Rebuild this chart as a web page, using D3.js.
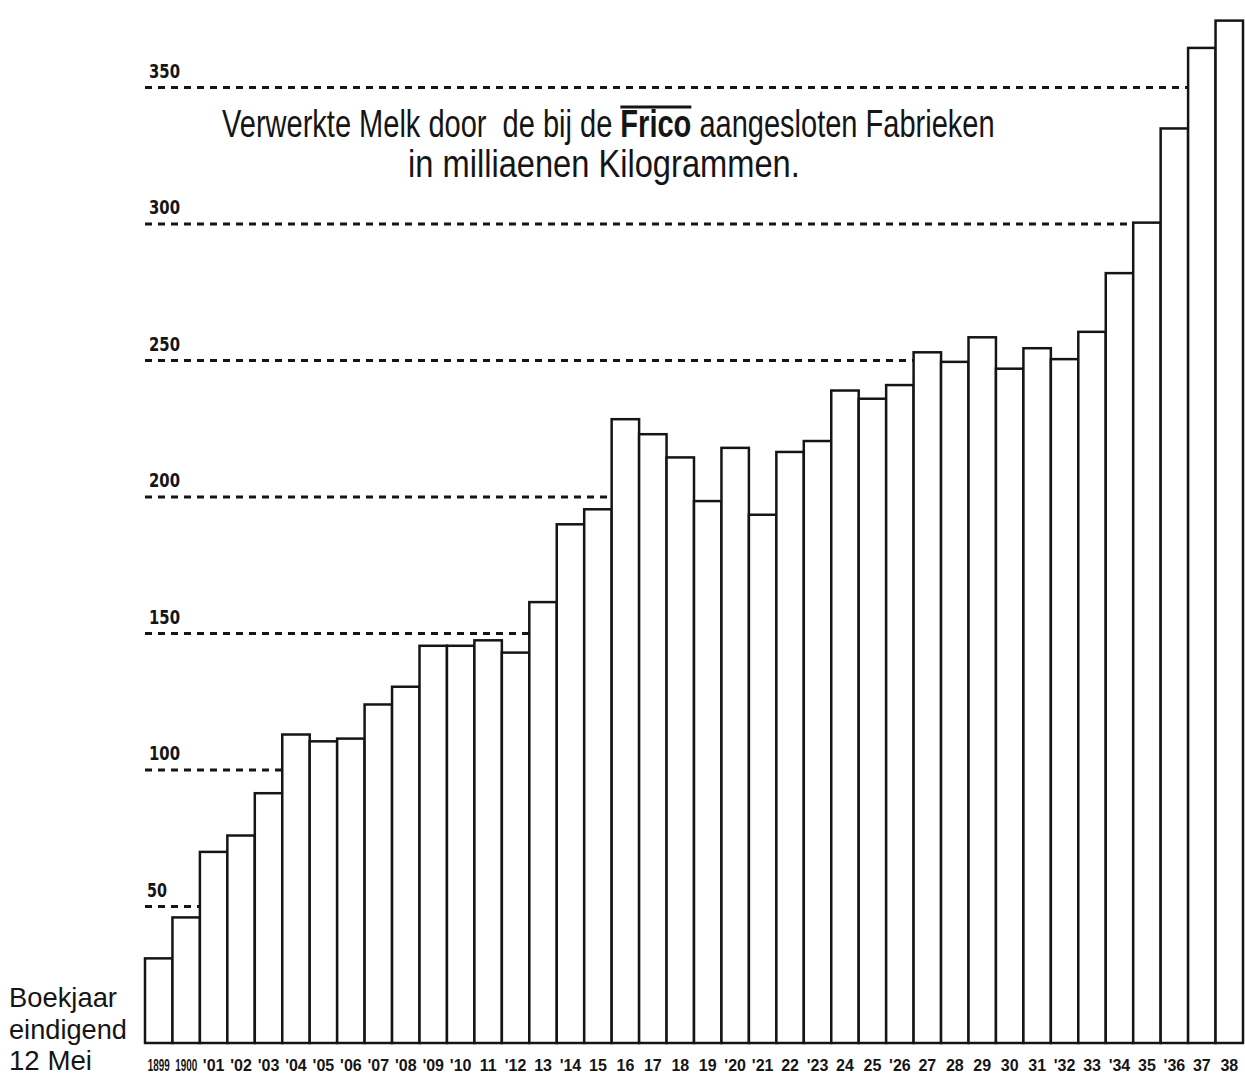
<!DOCTYPE html>
<html>
<head>
<meta charset="utf-8">
<script src="https://cdn.jsdelivr.net/npm/d3@7"></script>
<style>
  body { margin: 0; background: #fff; }
  svg { display: block; }
</style>
</head>
<body>
<div id="chart"></div>
<script>
// boekjaar labels as lettered under the bars
var years = ["1899", "1900", "'01", "'02", "'03", "'04", "'05", "'06", "'07", "'08",
             "'09", "'10", "11", "'12", "13", "'14", "15", "16", "17", "18",
             "19", "'20", "'21", "22", "'23", "24", "25", "'26", "27", "28",
             "29", "30", "31", "'32", "33", "'34", "35", "'36", "37", "38"];

// verwerkte melk, millioenen kg
var melk = [31, 46, 70, 76, 91.5, 113, 110.5, 111.5, 124, 130.5,
            145.5, 145.5, 147.5, 143, 161.5, 190, 195.5, 228.5, 223, 214.5,
            198.5, 218, 193.5, 216.5, 220.5, 239, 236, 241, 253, 249.5,
            258.5, 247, 254.5, 250.5, 260.5, 282, 300.5, 335, 364.5, 374.5];

var tickValues = [50, 100, 150, 200, 250, 300, 350];

var title1 = ["Verwerkte Melk door  de bij de ", "Frico", " aangesloten Fabrieken"];
var title2 = "in milliaenen Kilogrammen.";
var sideLabel = ["Boekjaar", "eindigend", "12 Mei"];

var width = 1245,
    height = 1077,
    base = 1043;

var ink = "#151515";

var svg = d3.select("#chart").append("svg")
    .attr("width", width)
    .attr("height", height);

svg.append("rect").attr("width", width).attr("height", height).attr("fill", "#fff");

var x = d3.scaleBand()
    .domain(years)
    .range([145, 1243])
    .padding(0);

var y = d3.scaleLinear()
    .domain([0, 350])
    .range([base, 87.5]);

// squeeze a line of text into a given span (keeps the bbox honest)
function fitLine(g, x0, w) {
  var node = g.select("text").node();
  var natural = node.getComputedTextLength();
  g.attr("transform", g.attr("transform") + " translate(" + x0 + ",0) scale(" + (w / natural) + ",1)");
  return node;
}

// dashed lines run from the left edge up to the first bar that passes them
tickValues.forEach(function(t) {
  var idx = melk.findIndex(function(v) { return v > t; });
  var xEnd = idx < 0 ? x.range()[1] : x(years[idx]);
  svg.append("line")
    .attr("x1", 145)
    .attr("x2", xEnd)
    .attr("y1", y(t))
    .attr("y2", y(t))
    .attr("stroke", ink)
    .attr("stroke-width", 3)
    .attr("stroke-dasharray", "7,6");

  var g = svg.append("g").attr("transform", "translate(0," + (y(t) - 10) + ")");
  g.append("text")
    .attr("font-family", "'Liberation Sans Narrow', 'DejaVu Sans Condensed', sans-serif")
    .attr("font-weight", "bold")
    .attr("font-size", 19)
    .attr("fill", ink)
    .text(t);
  fitLine(g, t < 100 ? 147 : 149, t < 100 ? 20 : 31);
});

svg.append("g")
  .selectAll("rect")
  .data(melk)
  .join("rect")
    .attr("x", function(d, i) { return x(years[i]); })
    .attr("y", function(d) { return y(d); })
    .attr("width", x.bandwidth())
    .attr("height", function(d) { return base - y(d); })
    .attr("fill", "#fff")
    .attr("stroke", ink)
    .attr("stroke-width", 2.5);

years.forEach(function(d) {
  var g = svg.append("g").attr("transform", "translate(0,1071)");
  var t = g.append("text")
    .attr("font-family", "'Liberation Sans Narrow', sans-serif")
    .attr("font-weight", "bold")
    .attr("font-size", 16)
    .attr("fill", ink)
    .text(d);
  var w = d.length == 4 ? 22 : t.node().getComputedTextLength();
  fitLine(g, x(d) + x.bandwidth() / 2 - w / 2, w);
});

var t1 = svg.append("g").attr("transform", "translate(0,137)");
var t1text = t1.append("text")
    .attr("font-family", "'Liberation Sans Narrow', sans-serif")
    .attr("font-size", 38)
    .attr("fill", ink)
    .attr("xml:space", "preserve")
    .style("white-space", "pre");
t1text.append("tspan").text(title1[0]);
t1text.append("tspan").attr("font-weight", "bold").text(title1[1]);
t1text.append("tspan").text(title1[2]);
var t1node = fitLine(t1, 222, 773);

var fStart = title1[0].length;
var ox1 = t1node.getStartPositionOfChar(fStart).x;
var ox2 = t1node.getEndPositionOfChar(fStart + title1[1].length - 1).x;
t1.append("line")
    .attr("x1", ox1)
    .attr("x2", ox2)
    .attr("y1", -30)
    .attr("y2", -30)
    .attr("stroke", ink)
    .attr("stroke-width", 3);

var t2 = svg.append("g").attr("transform", "translate(0,177)");
t2.append("text")
    .attr("font-family", "'Liberation Sans Narrow', sans-serif")
    .attr("font-size", 38)
    .attr("fill", ink)
    .text(title2);
fitLine(t2, 408, 392);

// side label, each line squeezed to the lettered width
var sideWidths = [108, 118, 83];
sideLabel.forEach(function(s, i) {
  var g = svg.append("g").attr("transform", "translate(0," + (1007 + i * 31.5) + ")");
  g.append("text")
    .attr("font-family", "'Liberation Sans Narrow', sans-serif")
    .attr("font-size", 28)
    .attr("fill", ink)
    .text(s);
  fitLine(g, 9, sideWidths[i]);
});
</script>
</body>
</html>
